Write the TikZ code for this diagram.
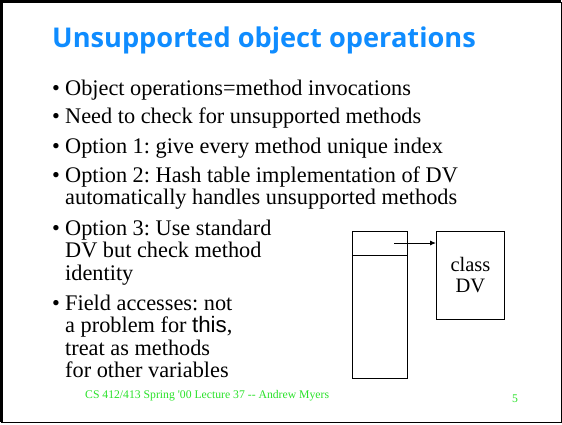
\documentclass[tikz,border=0pt]{standalone}
\usepackage{fontspec}
\setmainfont{Liberation Serif}
\newfontfamily\headfont{Open Sans}[BoldFont={* Bold}]
\newfontfamily\thisfont{Liberation Sans}
\usetikzlibrary{arrows.meta}
\frenchspacing

\definecolor{headblue}{RGB}{15,140,255}
\definecolor{footgreen}{RGB}{40,225,40}

% body text with a fixed line pitch
\newcommand\itemfont{\fontsize{22.3}{22.5}\selectfont\lineskiplimit=-100pt\relax}

\tikzset{
  item/.style = {anchor=base west, inner sep=0pt, align=left, font=\itemfont},
  dot/.style  = {anchor=base west, inner sep=0pt, font=\itemfont},
  box/.style  = {draw, line width=0.9pt},
}

\begin{document}
\begin{tikzpicture}[x=1pt, y=-1pt]

    \useasboundingbox (0,0) rectangle (562,424);

    % slide frame, heavier on the top and left edge
    \draw[line width=1pt] (1.5,2) rectangle (561,422);
    \draw[line width=3pt] (1.5,422) -- (1.5,1.5) -- (561,1.5);

    \node[anchor=base west, inner sep=0pt, text=headblue,
          font=\headfont\bfseries\fontsize{27.2}{30}\selectfont]
          (title) at (52,47) {Unsupported object operations};

    % the bullet list (multi-line items sit on their last baseline)
    \foreach \y in {95,123,153,182,235,310}
        \node[dot] at (52,\y) {\textbullet};

    \node[item] (opsa) at (65,95)  {Object operations=method invocations};
    \node[item] (opsb) at (65,123) {Need to check for unsupported methods};
    \node[item] (opta) at (65,153) {Option 1: give every method unique index};
    \node[item] (optb) at (65,204.5) {Option 2: Hash table implementation of DV\\
                                      automatically handles unsupported methods};
    \node[item] (optc) at (65,280) {Option 3: Use standard\\DV but check method\\identity};
    \node[item] (field) at (65,377.5) {Field accesses: not\\a problem for {\thisfont this},\\
                                       treat as methods\\for other variables};

    % dispatch vector and the class it points to
    \draw[box] (352,231) rectangle (407,378);
    \draw[box] (352,255) -- (407,255);
    \node[box, minimum width=68pt, minimum height=88pt, inner sep=0pt,
          anchor=north west, align=center, font=\fontsize{20.5}{21}\selectfont]
          (cls) at (436,231) {class\\DV};
    \coordinate (slot) at (394,243);
    \draw[-{Latex[length=6pt,width=5pt]}, line width=0.9pt] (slot) -- (cls.west |- slot);

    \node[anchor=base west, inner sep=0pt, text=footgreen,
          font=\fontsize{11.7}{12}\selectfont]
          (foot) at (85,398) {CS 412/413 Spring \textquotesingle 00 Lecture 37 -{}- Andrew Myers};
    \node[anchor=base west, inner sep=0pt, text=footgreen,
          font=\fontsize{11.7}{12}\selectfont] (page) at (512,402) {5};

\end{tikzpicture}
\end{document}
